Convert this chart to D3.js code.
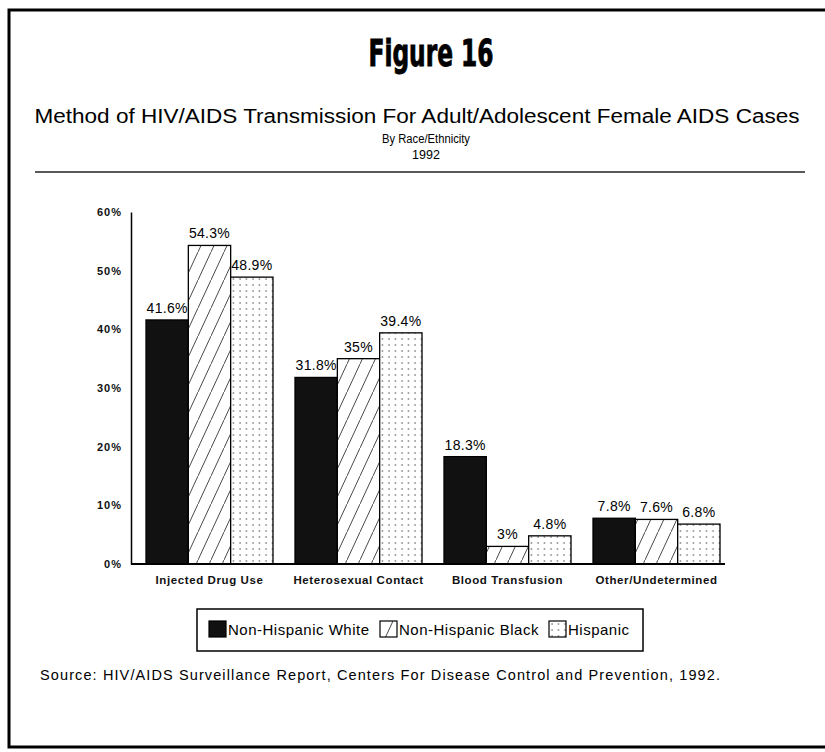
<!DOCTYPE html>
<html><head><meta charset="utf-8">
<script src="https://cdn.jsdelivr.net/npm/d3@7"></script>
<style>body{margin:0;background:#fff}svg{display:block}</style>
</head><body>
<script>
const categories = ["Injected Drug Use","Heterosexual Contact","Blood Transfusion","Other/Undetermined"];
const seriesNames = ["Non-Hispanic White","Non-Hispanic Black","Hispanic"];
const whiteVals = [41.6, 31.8, 18.3, 7.8];
const blackVals = [54.3, 35, 3, 7.6];
const hispVals = [48.9, 39.4, 4.8, 6.8];
const yTicks = [0,10,20,30,40,50,60];

const W=825,H=752;
const svg=d3.select("body").append("svg").attr("width",W).attr("height",H);
const defs=svg.append("defs");
const hatch=defs.append("pattern").attr("id","hatch").attr("patternUnits","userSpaceOnUse").attr("width",13).attr("height",28);
hatch.append("rect").attr("width",13).attr("height",28).attr("fill","#fff");
hatch.append("line").attr("x1",0).attr("y1",28).attr("x2",13).attr("y2",0).attr("stroke","#333").attr("stroke-width",0.9);
const dots=defs.append("pattern").attr("id","dots").attr("patternUnits","userSpaceOnUse").attr("width",6.5).attr("height",6);
dots.append("rect").attr("width",6.5).attr("height",6).attr("fill","#fff");
dots.append("circle").attr("cx",3).attr("cy",3).attr("r",0.75).attr("fill","#444");
const fills=["#111","url(#hatch)","url(#dots)"];

// frame
svg.append("path").attr("d","M825,10 H9 V747 H825").attr("fill","none").attr("stroke","#000").attr("stroke-width",3);

// titles
svg.append("text").attr("x",431).attr("y",66).attr("text-anchor","middle")
  .attr("font-family","'DejaVu Sans Condensed','Liberation Sans Narrow',Arial,sans-serif").attr("font-weight","bold")
  .attr("font-size",38).attr("textLength",125).attr("lengthAdjust","spacingAndGlyphs")
  .attr("stroke","#000").attr("stroke-width",0.9).text("Figure 16");
svg.append("text").attr("x",417).attr("y",123).attr("text-anchor","middle")
  .attr("font-family","'Liberation Sans',Arial,sans-serif").attr("font-size",19.5)
  .attr("textLength",765).attr("lengthAdjust","spacingAndGlyphs")
  .text("Method of HIV/AIDS Transmission For Adult/Adolescent Female AIDS Cases");
svg.append("text").attr("x",426).attr("y",143).attr("text-anchor","middle")
  .attr("font-family","'Liberation Sans',Arial,sans-serif").attr("font-size",12.5)
  .attr("textLength",88).attr("lengthAdjust","spacingAndGlyphs").text("By Race/Ethnicity");
svg.append("text").attr("x",426).attr("y",159).attr("text-anchor","middle")
  .attr("font-family","'Liberation Sans',Arial,sans-serif").attr("font-size",12.5).text("1992");
svg.append("line").attr("x1",35).attr("x2",805).attr("y1",172).attr("y2",172).attr("stroke","#222").attr("stroke-width",1.5);

// scales
const x0=d3.scaleBand().domain(categories).range([135,731]).paddingInner(0.1477).paddingOuter(0.0738);
const x1=d3.scaleBand().domain(seriesNames).range([0,x0.bandwidth()]);
const y=d3.scaleLinear().domain([0,60]).range([564,212]);

const table=categories.map((c,i)=>({cat:c,vals:[whiteVals[i],blackVals[i],hispVals[i]]}));

const g=svg.append("g");
const groups=g.selectAll("g.grp").data(table).join("g").attr("class","grp").attr("transform",d=>`translate(${x0(d.cat)},0)`);
groups.selectAll("rect").data(d=>d.vals.map((v,j)=>({v,j,s:seriesNames[j]}))).join("rect")
  .attr("x",d=>x1(d.s)).attr("width",x1.bandwidth()).attr("y",d=>y(d.v)).attr("height",d=>y(0)-y(d.v))
  .attr("fill",d=>fills[d.j]).attr("stroke","#000").attr("stroke-width",1.3);
groups.selectAll("text").data(d=>d.vals.map((v,j)=>({v,j,s:seriesNames[j]}))).join("text")
  .attr("x",d=>x1(d.s)+x1.bandwidth()/2).attr("y",d=>y(d.v)-7).attr("text-anchor","middle")
  .attr("font-family","'Liberation Sans',Arial,sans-serif").attr("font-size",14).attr("letter-spacing",0.3)
  .text(d=>d.v+"%");

// y axis
const yAxis=d3.axisLeft(y).tickValues(yTicks).tickSize(0).tickPadding(9).tickFormat(d=>d+"%");
const ya=svg.append("g").attr("transform","translate(131,0)").call(yAxis);
ya.select(".domain").attr("stroke","#000").attr("stroke-width",1.5);
ya.selectAll("text").attr("font-family","'Liberation Sans',Arial,sans-serif").attr("font-weight","bold").attr("font-size",11).attr("letter-spacing",1).attr("fill","#111");

// x axis
const xAxis=d3.axisBottom(x0).tickSize(0).tickPadding(12);
const xa=svg.append("g").attr("transform","translate(0,564)").call(xAxis);
xa.select(".domain").remove();
svg.append("line").attr("x1",131).attr("x2",725).attr("y1",564).attr("y2",564).attr("stroke","#000").attr("stroke-width",1.8);
xa.selectAll("text").attr("font-family","'Liberation Sans',Arial,sans-serif").attr("font-weight","bold").attr("font-size",11.5).attr("letter-spacing",0.6).attr("fill","#111");

// legend
svg.append("rect").attr("x",197).attr("y",609).attr("width",446).attr("height",42).attr("fill","#fff").attr("stroke","#000").attr("stroke-width",1.5);
const legX=[209,380,549];
const lg=svg.selectAll("g.leg").data(seriesNames).join("g").attr("class","leg").attr("transform",(d,i)=>`translate(${legX[i]},621)`);
lg.append("rect").attr("width",17).attr("height",16).attr("fill",(d,i)=>fills[i]).attr("stroke","#000").attr("stroke-width",1.2);
lg.append("text").attr("x",19).attr("y",14).attr("font-family","'Liberation Sans',Arial,sans-serif").attr("font-size",15).attr("letter-spacing",0.5).text(d=>d);

// source
svg.append("text").attr("x",40).attr("y",680).attr("font-family","'Liberation Sans',Arial,sans-serif").attr("font-size",14.5)
  .attr("textLength",680).attr("lengthAdjust","spacing")
  .text("Source:  HIV/AIDS Surveillance Report, Centers For Disease Control and Prevention, 1992.");
</script>
</body></html>
